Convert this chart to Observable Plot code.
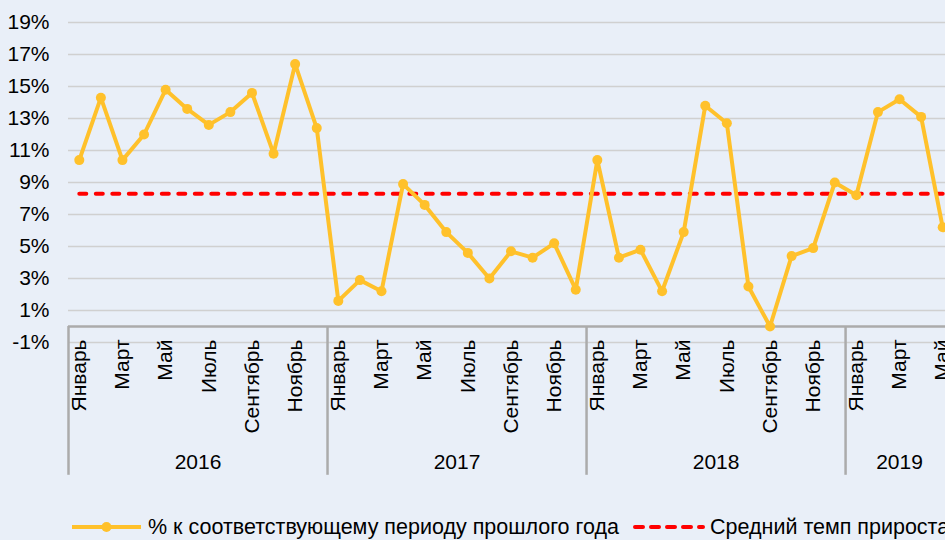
<!DOCTYPE html>
<html><head><meta charset="utf-8">
<script src="https://cdn.jsdelivr.net/npm/d3@7"></script>
<script src="https://cdn.jsdelivr.net/npm/@observablehq/plot@0.6"></script>
<style>
html,body{margin:0;padding:0;background:#E9EFF8;overflow:hidden;width:945px;height:540px}
#wrap{position:relative;width:995px;height:540px}
#chart svg{display:block}
.leg{position:absolute;font-family:'Liberation Sans',Arial,sans-serif;font-size:21.5px;color:#000;white-space:nowrap;line-height:24px}
.sw{position:absolute;overflow:visible}
</style>
</head><body><div id="wrap"><div id="chart"></div></div>
<script>
const years = [2016, 2017, 2018, 2019];
const monthNames = ["Январь","Февраль","Март","Апрель","Май","Июнь","Июль","Август","Сентябрь","Октябрь","Ноябрь","Декабрь"];
const values2016 = [10.4,14.3,10.4,12.0,14.8,13.6,12.6,13.4,14.6,10.8,16.4,12.4];
const values2017 = [1.6,2.9,2.2,8.9,7.6,5.9,4.6,3.0,4.7,4.3,5.2,2.3];
const values2018 = [10.4,4.3,4.8,2.2,5.9,13.8,12.7,2.5,0.0,4.4,4.9,9.0];
const values2019 = [8.2,13.4,14.2,13.1,6.2];
const averageGrowth = 8.3;
const seriesName = "% к соответствующему периоду прошлого года";
const averageName = "Средний темп прироста";
const yTicks = [-1,1,3,5,7,9,11,13,15,17,19];

const yearValues = [values2016, values2017, values2018, values2019];
const rows = [];
const yearGroups = [];
yearValues.forEach((vals, k) => {
  yearGroups.push({year: years[k], start: rows.length, count: vals.length});
  vals.forEach((v, m) => rows.push({i: rows.length, year: years[k], month: m, name: monthNames[m], value: v}));
});
const cx = d => d.i + 0.5;

const W = 995, H = 500;
const font = "'Liberation Sans', Arial, sans-serif";
const chart = Plot.plot({
  width: W, height: H,
  marginLeft: 68, marginRight: W - 953, marginTop: 22, marginBottom: H - 342,
  style: {background: "transparent", fontFamily: font, fontSize: "21px", color: "#000", overflow: "visible"},
  x: {type: "linear", domain: [0, rows.length], axis: null},
  y: {domain: [-1, 19], axis: null},
  marks: [
    Plot.gridY(yTicks, {stroke: "#D0D0D0", strokeOpacity: 1, strokeWidth: 1.5}),
    Plot.axisY(yTicks, {tickSize: 0, tickPadding: 19, tickFormat: d => d + "%", fontSize: 21, fill: "#000", label: null}),
    Plot.ruleY([0], {stroke: "#ABABAB", strokeWidth: 2.5}),
    Plot.ruleX(yearGroups, {x: "start", y1: 0, y2: -9.3, stroke: "#ABABAB", strokeWidth: 2.5}),
    Plot.text(rows.filter(d => d.month % 2 === 0), {x: cx, y: 0, text: "name", rotate: -90, textAnchor: "end", dy: 13, fontSize: 21, fill: "#000"}),
    Plot.text(yearGroups, {x: d => d.start + d.count / 2, y: 0, text: d => String(d.year), dy: 136, fontSize: 21, fill: "#000"}),
    Plot.line(rows, {x: cx, y: () => averageGrowth, stroke: "#FF0000", strokeWidth: 4, strokeDasharray: "7,9.5", strokeLinecap: "round"}),
    Plot.line(rows, {x: cx, y: "value", stroke: "#FFC12B", strokeWidth: 4}),
    Plot.dot(rows, {x: cx, y: "value", r: 5, fill: "#FFC12B"})
  ]
});
document.getElementById("chart").appendChild(chart);

const wrap = document.getElementById("wrap");
function addSwatch(html, left) {
  const s = document.createElementNS("http://www.w3.org/2000/svg", "svg");
  s.setAttribute("class", "sw"); s.setAttribute("width", "80"); s.setAttribute("height", "20");
  s.style.left = left + "px"; s.style.top = "517px";
  s.innerHTML = html; wrap.appendChild(s);
}
function addText(t, left) {
  const d = document.createElement("div");
  d.className = "leg"; d.textContent = t; d.style.left = left + "px"; d.style.top = "515px";
  wrap.appendChild(d);
}
addSwatch('<line x1="0" y1="10" x2="69" y2="10" stroke="#FFC12B" stroke-width="4"/><circle cx="34.5" cy="10" r="5" fill="#FFC12B"/>', 72);
addText(seriesName, 148);
addSwatch('<line x1="2" y1="10" x2="70" y2="10" stroke="#FF0000" stroke-width="4" stroke-dasharray="8,8" stroke-linecap="round"/>', 633);
addText(averageName, 710);
</script>
</body></html>
